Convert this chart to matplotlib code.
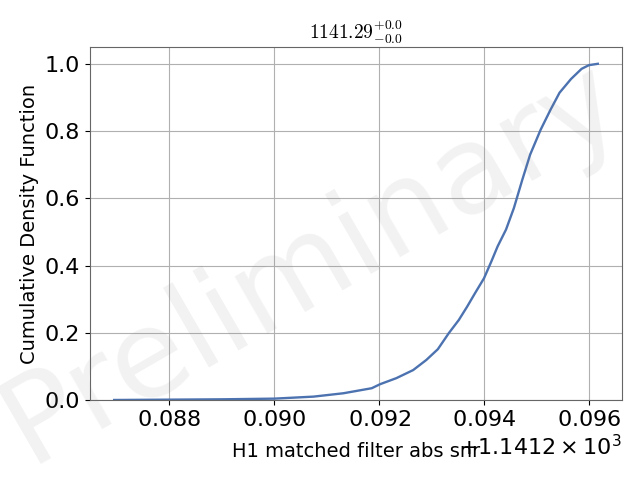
import matplotlib
matplotlib.use("Agg")
import matplotlib.pyplot as plt
from matplotlib.ticker import ScalarFormatter
import numpy as np

offset = 1141.2
snr_rel = [0.08695, 0.0880, 0.0890, 0.0895, 0.0900, 0.09075, 0.09132, 0.09186, 0.09202,
           0.09233, 0.09265, 0.09290, 0.09312, 0.09333, 0.09352, 0.09368, 0.09383,
           0.09400, 0.09414, 0.09426, 0.09442, 0.09457, 0.09473, 0.09488, 0.09508,
           0.09527, 0.09544, 0.09566, 0.09586, 0.09600, 0.09617]
cdf = [0.0, 0.001, 0.002, 0.003, 0.004, 0.010, 0.020, 0.035, 0.047,
       0.065, 0.089, 0.119, 0.151, 0.199, 0.238, 0.278, 0.318,
       0.362, 0.412, 0.457, 0.507, 0.571, 0.655, 0.730, 0.804,
       0.864, 0.914, 0.955, 0.985, 0.996, 1.0]
x_vals = np.array(snr_rel) + offset
title = r'$1141.29^{+0.0}_{-0.0}$'

fig = plt.figure(figsize=(6.4, 4.8), dpi=100)
ax = fig.add_axes([0.1406, 0.1667, 0.8313, 0.7354])
ax.plot(x_vals, cdf, color='#4c72b0', lw=1.7)
ax.set_ylim(0, 1.05)
fmt = ScalarFormatter(useMathText=True)
ax.xaxis.set_major_formatter(fmt)
ax.grid(True, color='#b0b0b0', lw=0.8)
ax.set_axisbelow(True)
for s in ax.spines.values():
    s.set_color('#666666')
ax.tick_params(labelsize=16)
ax.xaxis.get_offset_text().set_fontsize(16)
ax.set_xlabel('H1 matched filter abs snr', fontsize=14, labelpad=9)
ax.set_ylabel('Cumulative Density Function', fontsize=14)
ax.set_title(title, fontsize=14, math_fontfamily='cm')
fig.text(0.487, 0.452, 'Preliminary', fontsize=88, rotation=30, color='gray',
         alpha=0.1, ha='center', va='center')
fig.savefig('out.png', dpi=100)
